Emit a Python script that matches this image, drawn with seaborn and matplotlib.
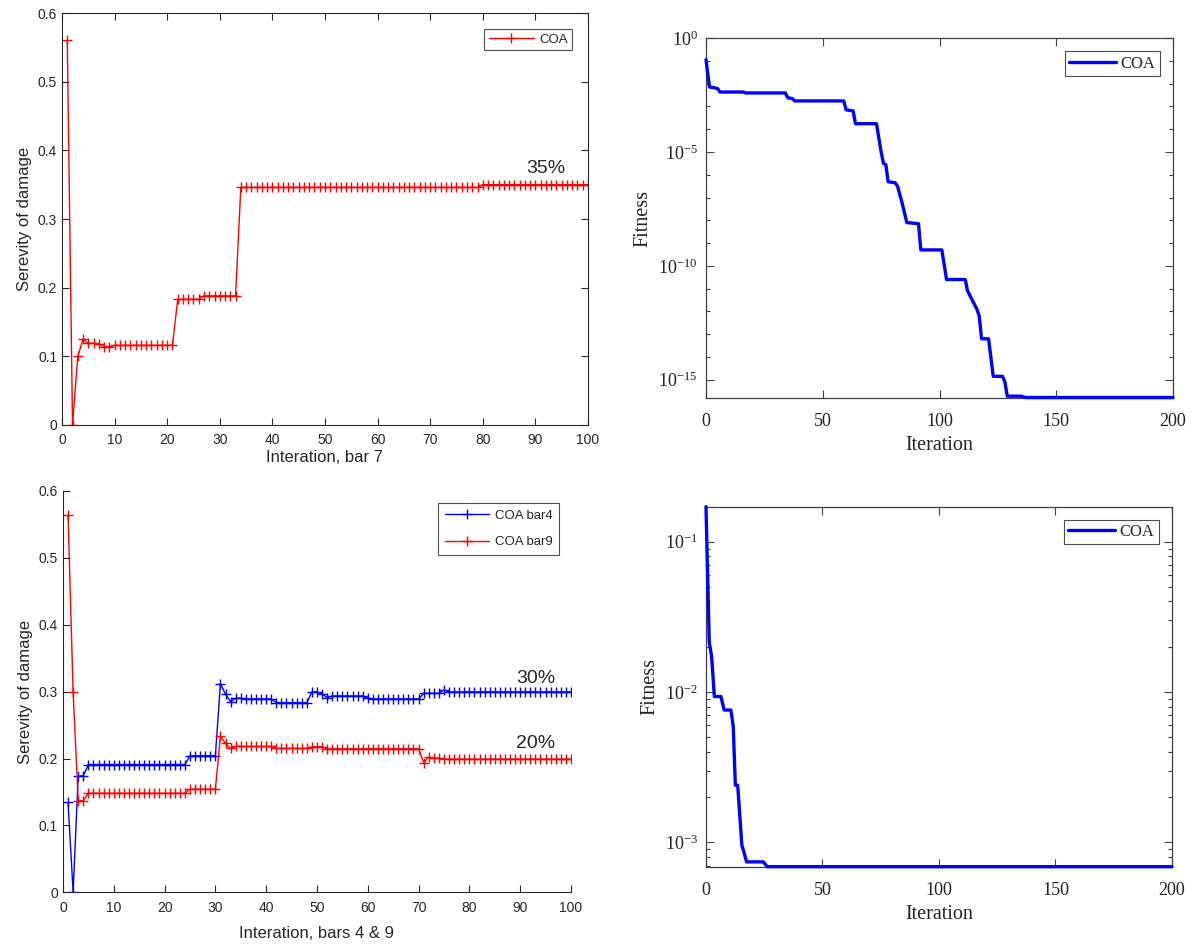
import numpy as np
import pandas as pd
import matplotlib
matplotlib.use("Agg")
import matplotlib.pyplot as plt
import matplotlib.ticker as mticker
import seaborn as sns

# ---- data ----
iters = np.arange(1, 101)

# top-left: severity of damage, bar 7
sev_bar7 = ([0.56, 0.0, 0.10, 0.125, 0.119, 0.119, 0.118, 0.114, 0.114]
            + [0.116] * 12 + [0.183] * 5 + [0.188] * 7
            + [0.346] * 46 + [0.350] * 21)

# bottom-left: bars 4 and 9
sev_bar4 = ([0.135, 0.0, 0.174, 0.174] + [0.191] * 20 + [0.204] * 6
            + [0.312, 0.296, 0.285] + [0.290] * 2 + [0.289] * 6
            + [0.2835] * 7 + [0.2995] * 2 + [0.297, 0.291]
            + [0.2935] * 7 + [0.290] + [0.289] * 10 + [0.2975] * 4
            + [0.3025] + [0.2995] * 25)
sev_bar9 = ([0.564, 0.299, 0.137, 0.137] + [0.148] * 20 + [0.154] * 6
            + [0.2335, 0.2225, 0.215] + [0.218] * 8 + [0.215] * 7
            + [0.2175] * 3 + [0.2145] * 19 + [0.194, 0.202]
            + [0.2005] * 2 + [0.199] * 26)

# top-right: convergence curve (iteration, log10 fitness)
conv1_iter = [0, 1.5, 3, 5, 6, 16, 17, 34, 35, 37, 38, 59, 60, 63, 64, 73,
              75, 76, 77, 78, 81, 82, 84, 86, 91, 92, 101, 103, 111, 112,
              114, 116, 117, 118, 121, 123, 127, 128, 129, 135, 137, 200]
conv1_log = [-0.95, -2.15, -2.17, -2.22, -2.37, -2.37, -2.41, -2.41, -2.62,
             -2.66, -2.76, -2.76, -3.15, -3.2, -3.76, -3.76, -5.0, -5.5,
             -5.55, -6.31, -6.35, -6.5, -7.25, -8.1, -8.15, -9.3, -9.3,
             -10.6, -10.6, -11.1, -11.5, -11.9, -12.2, -13.2, -13.2, -14.85,
             -14.85, -15.1, -15.72, -15.72, -15.78, -15.78]

# bottom-right: convergence curve (iteration, log10 fitness)
conv2_iter = [0, 1.4, 2.4, 3.6, 6.4, 7.8, 10.7, 11.7, 12.6, 13.6, 15.4,
              16.4, 17.4, 24.6, 26.3, 200]
conv2_log = [-0.767, -1.67, -1.76, -2.03, -2.03, -2.12, -2.12, -2.23, -2.62,
             -2.62, -3.02, -3.07, -3.13, -3.13, -3.162, -3.162]

df_left = pd.DataFrame({"it": iters, "bar7": sev_bar7,
                        "bar4": sev_bar4, "bar9": sev_bar9})
df_c1 = pd.DataFrame({"it": conv1_iter, "fit": np.power(10.0, conv1_log)})
df_c2 = pd.DataFrame({"it": conv2_iter, "fit": np.power(10.0, conv2_log)})

# ---- style ----
sns.set_theme(style="ticks")
plt.rcParams["xtick.direction"] = "in"
plt.rcParams["ytick.direction"] = "in"
plt.rcParams["mathtext.fontset"] = "custom"
plt.rcParams["mathtext.rm"] = "Liberation Serif"
plt.rcParams["mathtext.it"] = "Liberation Serif:italic"

SANS = ["Liberation Sans", "DejaVu Sans"]
SERIF = ["Liberation Serif", "DejaVu Serif"]
dark = "#262626"
red = "#ff0000"
blue = "#0000ff"

fig = plt.figure(figsize=(11.97, 9.44), dpi=100)
ax1 = fig.add_axes([0.0518, 0.5498, 0.4394, 0.4364])
ax2 = fig.add_axes([0.5898, 0.5784, 0.3902, 0.3813])
ax3 = fig.add_axes([0.0526, 0.0548, 0.4244, 0.4251])
ax4 = fig.add_axes([0.5898, 0.0819, 0.3893, 0.3814])

mk = dict(marker="+", markersize=7, markeredgewidth=1.0, linewidth=1.0,
          estimator=None, sort=False)

# top-left
sns.lineplot(data=df_left, x="it", y="bar7", ax=ax1, color=red,
             markeredgecolor=red, label="COA", **mk)
ax1.set_xlim(0, 100)
ax1.set_ylim(0, 0.6)
ax1.set_xticks(np.arange(0, 101, 10))
ax1.set_yticks(np.arange(0, 0.61, 0.1))
ax1.yaxis.set_major_formatter(mticker.FuncFormatter(lambda v, p: f"{v:g}"))
ax1.tick_params(top=True, right=True, length=5, width=0.8, colors=dark,
                labelsize=10)
ax1.tick_params(axis="x", pad=6)
ax1.set_xlabel("Interation, bar 7", fontsize=12, family=SANS, color=dark,
               labelpad=2)
ax1.set_ylabel("Serevity of damage", fontsize=12, family=SANS, color=dark)
ax1.text(92, 0.373, "35%", fontsize=14, family=SANS, color=dark,
         ha="center", va="center")

# bottom-left
sns.lineplot(data=df_left, x="it", y="bar4", ax=ax3, color=blue,
             markeredgecolor=blue, label="COA bar4", **mk)
sns.lineplot(data=df_left, x="it", y="bar9", ax=ax3, color=red,
             markeredgecolor=red, label="COA bar9", **mk)
ax3.set_xlim(0, 100)
ax3.set_ylim(0, 0.6)
ax3.set_xticks(np.arange(0, 101, 10))
ax3.set_yticks(np.arange(0, 0.61, 0.1))
ax3.yaxis.set_major_formatter(mticker.FuncFormatter(lambda v, p: f"{v:g}"))
ax3.tick_params(length=5, width=0.8, colors=dark, labelsize=10)
ax3.tick_params(axis="x", pad=6)
sns.despine(ax=ax3)
ax3.set_xlabel("Interation, bars 4 & 9", fontsize=12, family=SANS,
               color=dark, labelpad=8)
ax3.set_ylabel("Serevity of damage", fontsize=12, family=SANS, color=dark)
ax3.text(93, 0.32, "30%", fontsize=14, family=SANS, color=dark,
         ha="center", va="center")
ax3.text(93, 0.222, "20%", fontsize=14, family=SANS, color=dark,
         ha="center", va="center")

for ax, lsp, bp, bap in ((ax1, 0.7, 0.35, 1.2), (ax3, 1.1, 0.5, 0.9)):
    for s in ax.spines.values():
        s.set_color(dark)
        s.set_linewidth(0.8)
    for t in ax.get_xticklabels() + ax.get_yticklabels():
        t.set_family(SANS)
    leg = ax.legend(loc="upper right", prop={"family": SANS, "size": 9.5},
                    frameon=True, fancybox=False, edgecolor=dark,
                    handlelength=3.4, numpoints=1, borderpad=bp,
                    labelspacing=lsp, borderaxespad=bap, handletextpad=0.4)
    leg.get_frame().set_linewidth(0.8)

# right column
line = dict(color=blue, linewidth=2.4, estimator=None, sort=False,
            clip_on=False, zorder=5)
sns.lineplot(data=df_c1, x="it", y="fit", ax=ax2, label="COA", **line)
sns.lineplot(data=df_c2, x="it", y="fit", ax=ax4, label="COA", **line)

ax2.set_yscale("log")
ax2.set_ylim(10 ** -15.8, 1)
ax2.yaxis.set_major_locator(mticker.FixedLocator([1e0, 1e-5, 1e-10, 1e-15]))
ax2.yaxis.set_minor_locator(mticker.LogLocator(base=10, subs=(1.0,),
                                               numticks=100))
ax4.set_yscale("log")
ax4.set_ylim(10 ** -3.162, 10 ** -0.767)
ax4.yaxis.set_major_locator(mticker.LogLocator(base=10, numticks=10))
ax4.yaxis.set_minor_locator(mticker.LogLocator(base=10, subs=np.arange(2, 10),
                                               numticks=20))

gray = "#404040"
for ax in (ax2, ax4):
    ax.set_xlim(0, 200)
    ax.set_xticks([0, 50, 100, 150, 200])
    ax.yaxis.set_major_formatter(mticker.LogFormatterMathtext())
    ax.yaxis.set_minor_formatter(mticker.NullFormatter())
    ax.tick_params(which="both", top=True, right=True, colors=gray,
                   labelcolor="#222222", labelsize=13, width=0.8)
    ax.tick_params(which="major", length=6, pad=6)
    ax.tick_params(axis="x", which="major", pad=11)
    ax.tick_params(which="minor", length=3)
    for t in ax.get_xticklabels() + ax.get_yticklabels():
        t.set_family(SERIF)
    for s in ax.spines.values():
        s.set_color(gray)
        s.set_linewidth(0.9)
    ax.set_xlabel("Iteration", fontsize=14.5, family=SERIF, color="#222222",
                  labelpad=4)
    ax.set_ylabel("Fitness", fontsize=14.5, family=SERIF, color="#222222")
    leg = ax.legend(loc="upper right", prop={"family": SERIF, "size": 12},
                    frameon=True, fancybox=False, edgecolor="#222222",
                    handlelength=2.8, borderpad=0.25, borderaxespad=0.8,
                    handletextpad=0.3)
    leg.get_frame().set_linewidth(0.8)

fig.savefig("out.png", dpi=100, facecolor="white")
